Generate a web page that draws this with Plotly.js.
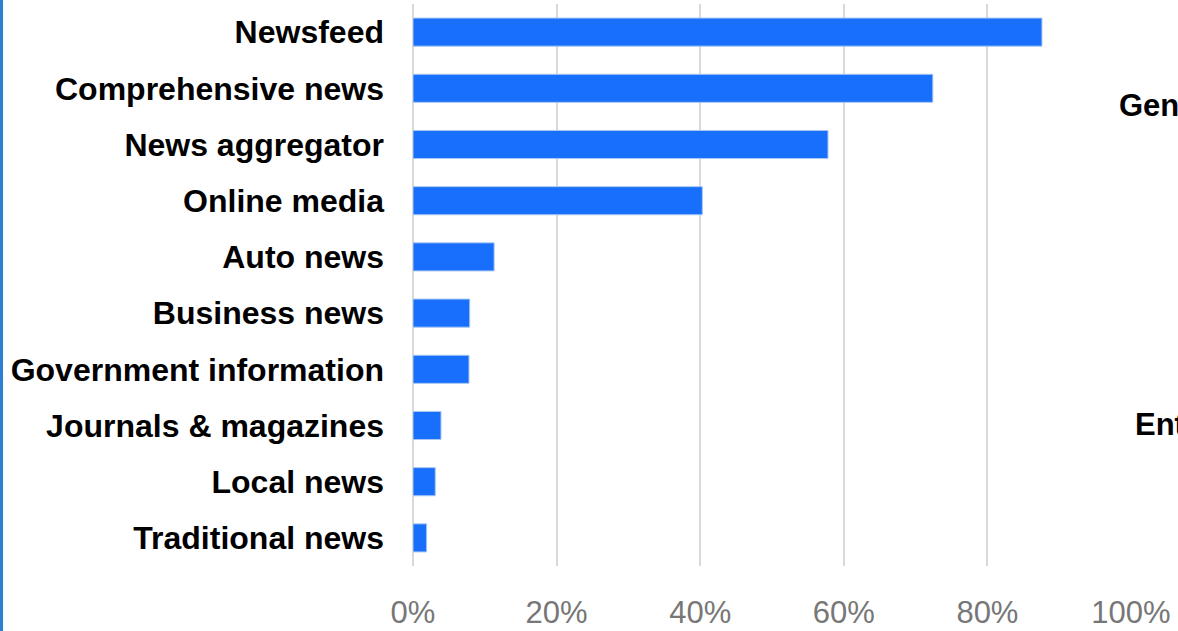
<!DOCTYPE html>
<html><head><meta charset="utf-8">
<script src="https://cdn.plot.ly/plotly-3.0.1.min.js"></script>
<style>html,body{margin:0;padding:0;background:#fff;}#chart{width:1178px;height:631px;}</style>
</head><body><div id="chart"></div>
<script>
const categories = ["Newsfeed","Comprehensive news","News aggregator","Online media","Auto news","Business news","Government information","Journals & magazines","Local news","Traditional news"];
const shares = [87.6, 72.4, 57.8, 40.3, 11.3, 7.9, 7.8, 3.9, 3.1, 1.9];
const tickValues = [0, 20, 40, 60, 80, 100];
const tickLabels = ["0%","20%","40%","60%","80%","100%"];
const sideLabels = ["Gen","Ent"];

const trace = {
  type: "bar", orientation: "h",
  x: shares, y: categories,
  marker: {color: "#176ffb", line: {color: "#a9c8f2", width: 1}},
  hoverinfo: "x+y"
};
const layout = {
  width: 1178, height: 631,
  margin: {l: 413, r: 47, t: 4, b: 65},
  paper_bgcolor: "#fff", plot_bgcolor: "#fff",
  bargap: 0.5,
  showlegend: false,
  font: {family: "Liberation Sans, Arial, sans-serif"},
  xaxis: {range: [0, 100], tickvals: tickValues, ticktext: tickLabels,
    showgrid: true, gridcolor: "#d9d9d9", gridwidth: 2,
    zeroline: true, zerolinecolor: "#d9d9d9", zerolinewidth: 2,
    showline: false, ticks: "", ticklabelstandoff: 25,
    tickfont: {size: 31, color: "#777777"}, fixedrange: true},
  yaxis: {autorange: "reversed", showgrid: false, zeroline: false, showline: false,
    ticks: "", ticklabelstandoff: 28,
    tickfont: {size: 32, color: "#000", family: "Liberation Sans, Arial, sans-serif", weight: "bold"}},
  shapes: [{type: "line", xref: "paper", yref: "paper", x0: -411.5/718, x1: -411.5/718, y0: -0.2, y1: 1.1,
    line: {color: "#2c7fd2", width: 3}}],
  annotations: [
    {text: "<b>" + sideLabels[0] + "</b>", xref: "paper", yref: "paper", x: 704/718, y: 1 - (105-4)/562, xanchor: "left", yanchor: "middle", showarrow: false, font: {size: 31, color: "#000"}},
    {text: "<b>" + sideLabels[1] + "</b>", xref: "paper", yref: "paper", x: 720/718, y: 1 - (424-4)/562, xanchor: "left", yanchor: "middle", showarrow: false, font: {size: 31, color: "#000"}}
  ]
};
Plotly.newPlot("chart", [trace], layout, {displayModeBar: false, staticPlot: true});
</script></body></html>
